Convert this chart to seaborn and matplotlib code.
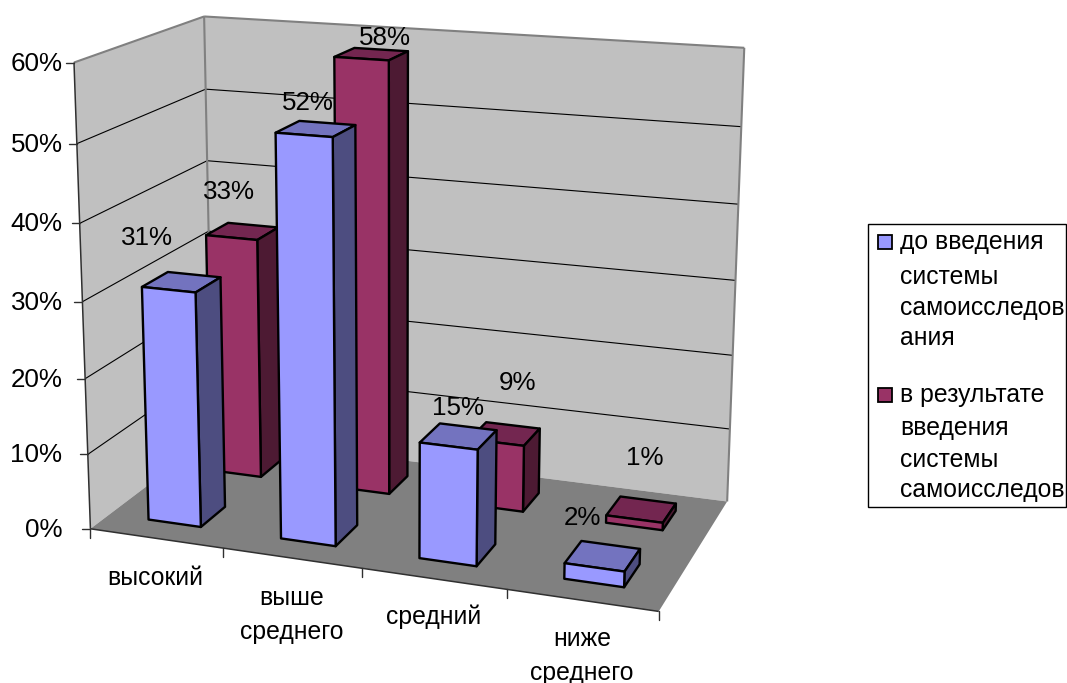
import numpy as np
import matplotlib
matplotlib.use("Agg")
import matplotlib.pyplot as plt
import seaborn as sns

categories = ["высокий", "выше\nсреднего", "средний", "ниже\nсреднего"]
before = [0.31, 0.52, 0.15, 0.02]
after = [0.33, 0.58, 0.09, 0.01]
before_labels = ["31%", "52%", "15%", "2%"]
after_labels = ["33%", "58%", "9%", "1%"]
z_ticks = [0.0, 0.1, 0.2, 0.3, 0.4, 0.5, 0.6]
z_labels = ["0%", "10%", "20%", "30%", "40%", "50%", "60%"]
legend_before = ["до введения", "системы", "самоисследов", "ания"]
legend_after = ["в результате", "введения", "системы", "самоисследов"]

sns.set_theme(style="white")
plt.rcParams["font.family"] = ["Liberation Sans", "DejaVu Sans"]
FS = 17.8
FS_NUM = 18.7

# камера: подбираем проекцию по опорным точкам (категория, глубина, значение) -> пиксели
world = np.array([
    [0, 0, 0], [1, 0, 0], [2, 0, 0], [3, 0, 0], [4, 0, 0],
    [4, 2, 0], [0, 2, 0], [0, 0, .6], [0, 2, .6], [4, 2, .6],
    [0, 0, .1], [0, 0, .5], [4, 2, .1], [0, 2, .3],
], dtype=float)
pixels = np.array([
    [90, 528], [224, 548], [362, 569], [506, 590], [658, 612],
    [728, 500], [212, 436], [74, 62], [204, 16], [744, 48],
    [88, 454], [77, 143.5], [730, 429], [209, 233],
], dtype=float)

A, b = [], []
for (x, d, z), (u, v) in zip(world, pixels):
    A.append([x, d, z, 1, 0, 0, 0, 0, -u * x, -u * d, -u * z])
    A.append([0, 0, 0, 0, x, d, z, 1, -v * x, -v * d, -v * z])
    b += [u, v]
cam = np.linalg.lstsq(np.array(A), np.array(b), rcond=None)[0]


def proj(x, d, z):
    w = cam[8] * x + cam[9] * d + cam[10] * z + 1
    return ((cam[0] * x + cam[1] * d + cam[2] * z + cam[3]) / w,
            (cam[4] * x + cam[5] * d + cam[6] * z + cam[7]) / w)


def face(ax, pts, color, lw=1.7, ec="black", zorder=2):
    xy = [proj(*p) for p in pts]
    ax.fill([p[0] for p in xy], [p[1] for p in xy], facecolor=color,
            edgecolor=ec, linewidth=lw, joinstyle="round", zorder=zorder)


def line(ax, p0, p1, color="black", lw=0.8, zorder=1):
    a, b = proj(*p0), proj(*p1)
    ax.plot([a[0], b[0]], [a[1], b[1]], color=color, lw=lw, zorder=zorder,
            solid_capstyle="butt")


def bar(ax, cat, d0, d1, val, cols):
    x0, x1 = cat + 0.30, cat + 0.70
    face(ax, [(x0, d0, val), (x1, d0, val), (x1, d1, val), (x0, d1, val)], cols[2])
    face(ax, [(x1, d0, 0), (x1, d1, 0), (x1, d1, val), (x1, d0, val)], cols[1])
    face(ax, [(x0, d0, 0), (x1, d0, 0), (x1, d0, val), (x0, d0, val)], cols[0])


fig = plt.figure(figsize=(10.67, 6.83), dpi=100)
ax = fig.add_axes([0, 0, 1, 1])
ax.set_xlim(0, 1067)
ax.set_ylim(683, 0)
ax.axis("off")

# стены и пол
WALL = "#C0C0C0"
face(ax, [(0, 0, 0), (0, 2, 0), (0, 2, .6), (0, 0, .6)], WALL, lw=0, ec="none", zorder=0)
face(ax, [(0, 2, 0), (4, 2, 0), (4, 2, .6), (0, 2, .6)], WALL, lw=0, ec="none", zorder=0)
for z in z_ticks[1:-1]:
    line(ax, (0, 0, z), (0, 2, z))
    line(ax, (0, 2, z), (4, 2, z))
face(ax, [(0, 0, 0), (4, 0, 0), (4, 2, 0), (0, 2, 0)], "#808080", lw=0, ec="none", zorder=1)
line(ax, (0, 0, .6), (0, 2, .6), "#808080", 1.5)
line(ax, (0, 2, .6), (4, 2, .6), "#808080", 1.5)
line(ax, (0, 2, 0), (0, 2, .6), "#808080", 1.5)
line(ax, (4, 2, 0), (4, 2, .6), "#808080", 1.5)
line(ax, (0, 0, 0), (0, 0, .6), "#303030", 1.1)
line(ax, (0, 0, 0), (4, 0, 0), "#303030", 1.1)

# оси
for z, lab in zip(z_ticks, z_labels):
    u, v = proj(0, 0, z)
    ax.plot([u - 8, u], [v, v], color="#303030", lw=1.0)
    ax.text(62.5, v + 1, lab, ha="right", va="center", fontsize=FS_NUM, color="black")
for i in range(5):
    u, v = proj(i, 0, 0)
    ax.plot([u, u], [v, v + 9], color="#303030", lw=1.0)

cat_pos = [(155, 578), (292, 598), (434, 617), (582, 639)]
for lab, (u, v) in zip(categories, cat_pos):
    for k, part in enumerate(lab.split("\n")):
        ax.text(u, v + k * 34, part, ha="center", va="center", fontsize=FS, color="black")

# столбцы: сначала дальний ряд
BLUE = ["#9999FF", "#4D4D80", "#7373BF"]
RED = ["#993366", "#4D1A33", "#732650"]
for i, val in enumerate(after):
    bar(ax, i, 1.32, 1.70, val, RED)
for i, val in enumerate(before):
    bar(ax, i, 0.29, 0.69, val, BLUE)

before_pos = [(147, 238), (308, 103), (458, 408), (582, 518)]
after_pos = [(229, 192), (385, 38), (518, 383), (645, 458)]
for lab, (u, v) in zip(before_labels + after_labels, before_pos + after_pos):
    ax.text(u, v, lab, ha="center", va="center", fontsize=FS_NUM, color="black", zorder=5)

# легенда
ax.add_patch(plt.Rectangle((868, 224), 198, 283, fc="white", ec="black", lw=1.0, zorder=3))
for txt, ys, col in [(legend_before, [242, 277, 308, 338], BLUE[0]),
                     (legend_after, [395, 428, 460, 490], RED[0])]:
    ax.add_patch(plt.Rectangle((878, ys[0] - 7), 14, 14, fc=col, ec="black", lw=1.3, zorder=4))
    for t, y in zip(txt, ys):
        ax.text(900, y, t, ha="left", va="center", fontsize=FS, color="black", zorder=5)

fig.savefig("out.png", dpi=100)
